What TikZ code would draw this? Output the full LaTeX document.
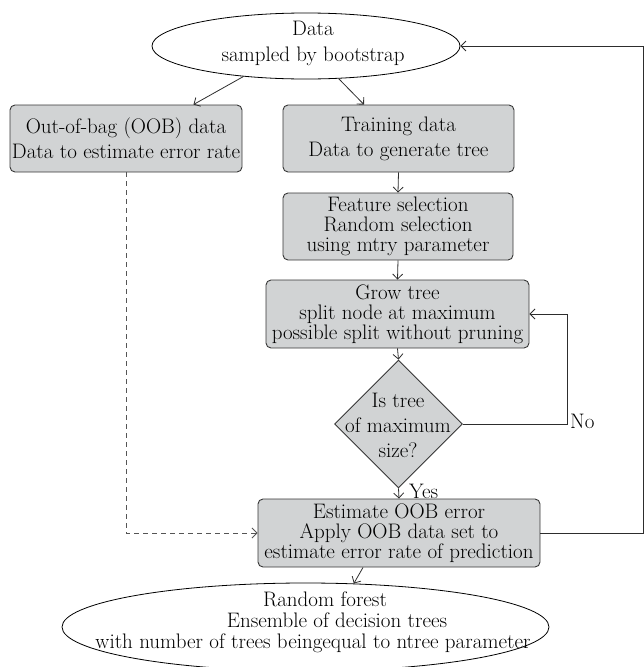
\documentclass[tikz,border=0pt]{standalone}
\usepackage{fontspec}
\usetikzlibrary{shapes.geometric,arrows.meta,calc}
\definecolor{boxfill}{RGB}{209,211,212}
\definecolor{boxline}{RGB}{55,55,55}
\definecolor{lnk}{RGB}{45,45,45}
\definecolor{dashc}{RGB}{85,85,85}
\begin{document}
\begin{tikzpicture}[x=1pt,y=-1pt,
  box2/.style={draw=boxline, fill=boxfill, rounded corners=5pt, line width=0.9pt, align=center, inner sep=0pt, font=\fontsize{21}{25}\selectfont},
  box3/.style={draw=boxline, fill=boxfill, rounded corners=5pt, line width=0.9pt, align=center, inner sep=0pt, font=\fontsize{21}{20}\selectfont},
  oval/.style={ellipse, draw=black, line width=0.8pt, inner sep=0pt},
  dia/.style={diamond, draw=boxline, fill=boxfill, line width=0.9pt, inner sep=0pt, minimum width=128pt, minimum height=128pt},
  txt/.style={align=center, inner sep=0pt},
  lbl/.style={inner sep=0pt, font=\fontsize{21}{20}\selectfont},
  arr/.style={draw=lnk, line width=0.8pt, -{Straight Barb[length=5pt,width=10pt]}},
  dasharr/.style={draw=dashc, line width=0.9pt, dash pattern=on 5pt off 4pt, -{Straight Barb[length=5pt,width=10pt]}}
]
\useasboundingbox (0,0) rectangle (643,667);

% top ellipse
\node[oval, minimum width=308pt, minimum height=66pt] (data) at (306,46) {};
\node[txt, font=\fontsize{21}{26}\selectfont] (datatext) at (313,43) {Data\\sampled by bootstrap};

% boxes
\node[box2, minimum width=232pt, minimum height=67pt] (oob) at (126,138.5) {Out-of-bag (OOB) data\\Data to estimate error rate};
\node[box2, minimum width=231pt, minimum height=67pt] (train) at (398.5,138.5) {Training data\\Data to generate tree};
\node[box3, minimum width=230pt, minimum height=67pt] (feat) at (398,226.5) {Feature selection\\Random selection\\using mtry parameter};
\node[box3, minimum width=263pt, minimum height=68pt] (grow) at (397.5,314) {Grow tree\\split node at maximum\\possible split without pruning};

% decision
\node[dia] (dec) at (398.5,424) {};
\node[txt, font=\fontsize{21}{25}\selectfont] (dectext) at (398,425) {Is tree\\of maximum\\size?};

\node[box3, minimum width=282pt, minimum height=68pt] (est) at (399,533) {Estimate OOB error\\Apply OOB data set to\\estimate error rate of prediction};

% bottom ellipse
\node[oval, minimum width=487pt, minimum height=88pt] (rf) at (305.5,627) {};
\node[txt, font=\fontsize{21}{21}\selectfont] (rftext) at (313,622) {\hspace*{24pt}Random forest\\\hspace*{48pt}Ensemble of decision trees\\with number of trees beingequal to ntree parameter};

% labels
\node[lbl, anchor=west] (yes) at (409,491) {Yes};
\node[lbl, anchor=west] (no) at (570,421) {No};

% connectors
\draw[arr] (data.206) -- ([xshift=-49pt]oob.north east);
\draw[arr] (data.315) -- ([xshift=-34.5pt]train.north);
\draw[arr] (train.south) -- (feat.north);
\draw[arr] (feat.south) -- (grow.north);
\draw[arr] (grow.south) -- (dec.north);
\draw[arr] (dec.south) -- (est.north);
\draw[arr] (dec.east) -- ++(104,0) coordinate (nocorner) |- (grow.east);
\coordinate (rb) at (643,533);
\coordinate (rt) at (643,46);
\draw[arr] (est.east) -- (rb) -- (rt) -- (data.east);
\draw[dasharr] (oob.south) -- (oob.south |- est.west) -- (est.west);
\draw[arr] ([xshift=-36pt]est.south) -- (rf.42);
\end{tikzpicture}
\end{document}
